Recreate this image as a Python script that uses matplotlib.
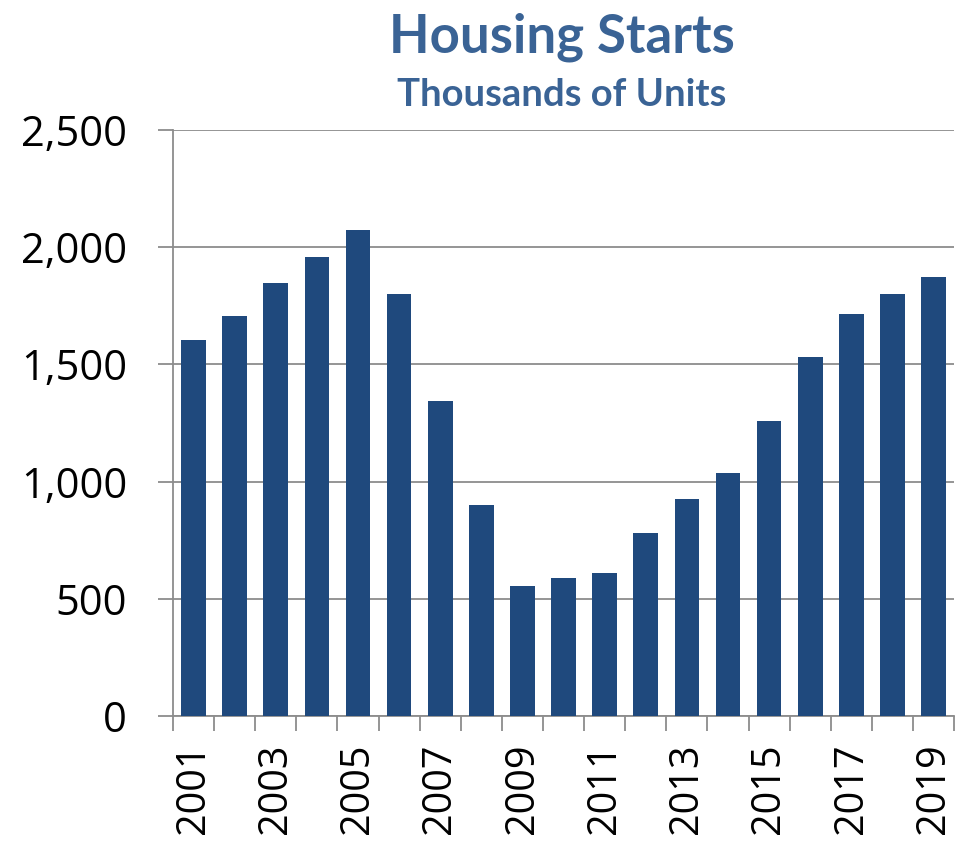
import matplotlib.pyplot as plt
import numpy as np
from matplotlib.ticker import FuncFormatter, FixedLocator

years = list(range(2001, 2020))
starts = [1603, 1705, 1848, 1956, 2073, 1801, 1342, 900, 554, 587, 609, 781, 925, 1035, 1257, 1530, 1713, 1800, 1873]

fig = plt.figure(figsize=(9.56, 8.43), dpi=100)
ax = fig.add_axes([0.181, 0.1507, 0.817, 0.6951])

x = np.arange(len(years))
ax.bar(x, starts, width=0.6, color='#1F497D', zorder=3)

ax.set_xlim(-0.5, len(years) - 0.5)
ax.set_ylim(0, 2500)
ax.set_yticks(np.arange(0, 2501, 500))
ax.yaxis.set_major_formatter(FuncFormatter(lambda v, p: f'{int(v):,}'))
ax.grid(axis='y', color='#8C8C8C', linewidth=1.3, zorder=0)

# year labels on odd years, ticks between categories
ax.set_xticks(x[::2])
ax.set_xticklabels([str(y) for y in years[::2]], rotation=90)
ax.xaxis.set_minor_locator(FixedLocator(np.arange(-0.5, len(years), 1)))
ax.tick_params(axis='x', which='major', length=0, pad=20, labelsize=28.5)
ax.tick_params(axis='x', which='minor', length=11, width=1.3, color='#8C8C8C')
ax.tick_params(axis='y', length=11, width=1.3, color='#8C8C8C', pad=22, labelsize=30)
for lab in ax.get_xticklabels() + ax.get_yticklabels():
    lab.set_fontfamily('Open Sans')

for s in ['top', 'right']:
    ax.spines[s].set_visible(False)
for s in ['left', 'bottom']:
    ax.spines[s].set_color('#8C8C8C')
    ax.spines[s].set_linewidth(1.3)

fig.text(0.5874, 1 - 52 / 843, 'Housing Starts', ha='center', va='baseline',
         fontsize=38, fontweight='bold', color='#3A6395', family='Lato')
fig.text(0.5874, 1 - 106 / 843, 'Thousands of Units', ha='center', va='baseline',
         fontsize=27.5, fontweight='bold', color='#3A6395', family='Lato')

plt.savefig('out.png')
